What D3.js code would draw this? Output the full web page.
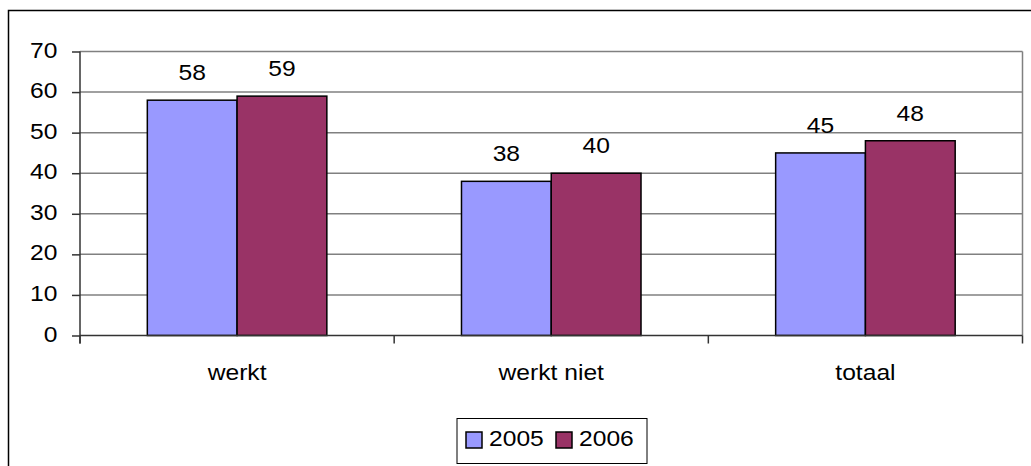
<!DOCTYPE html>
<html><head><meta charset="utf-8">
<script src="https://cdn.jsdelivr.net/npm/d3@7"></script>
<style>body{margin:0;background:#fff}svg{display:block}text{font-family:Arial,"Liberation Sans",sans-serif;fill:#000}</style>
</head><body>
<svg id="c" width="1031" height="466"></svg>
<script>
const categories = ["werkt", "werkt niet", "totaal"];
const seriesNames = ["2005", "2006"];
const values2005 = [58, 38, 45];
const values2006 = [59, 40, 48];
const yTicks = [0, 10, 20, 30, 40, 50, 60, 70];
const colors = ["#9999FF", "#993366"];

const svg = d3.select("#c");
const fs = 22;
const kx = 1.12;
const pLeft = 80, pRight = 1022.5, pTop = 51.5, pBottom = 335.5;

function stretch(sel) {
  sel.each(function() {
    const t = d3.select(this);
    const x = +t.attr("x") || 0, yy = +t.attr("y") || 0;
    t.attr("x", 0).attr("y", 0).attr("transform", `translate(${x},${yy}) scale(${kx},1)`);
  });
}

// outer border
svg.append("rect").attr("x", 8.5).attr("y", 10.5).attr("width", 1100).attr("height", 1000)
  .attr("fill", "none").attr("stroke", "#000").attr("stroke-width", 1.5);

const x0 = d3.scaleBand().domain(categories).range([pLeft, pRight]).paddingInner(0).paddingOuter(0);
const y = d3.scaleLinear().domain([0, 70]).range([pBottom, pTop]);
const bw = x0.bandwidth() / 3.5;
const x1 = d3.scaleBand().domain(seriesNames).range([x0.bandwidth()/2 - bw, x0.bandwidth()/2 + bw]);

// gridlines
svg.append("g").selectAll("line").data(yTicks.filter(d => d > 0)).join("line")
  .attr("x1", pLeft).attr("x2", pRight).attr("y1", d => y(d)).attr("y2", d => y(d))
  .attr("stroke", "#808080").attr("stroke-width", 1.5);
// plot right border
svg.append("line").attr("x1", pRight).attr("x2", pRight).attr("y1", pTop).attr("y2", pBottom)
  .attr("stroke", "#808080").attr("stroke-width", 1.5);

// y axis
const yAxis = d3.axisLeft(y).tickValues(yTicks).tickSize(8).tickPadding(14.5);
const gy = svg.append("g").attr("transform", `translate(${pLeft},0)`).call(yAxis);
gy.select(".domain").attr("stroke", "#333").attr("stroke-width", 1.5).attr("d", `M0,${pTop}V${pBottom + 8}`);
gy.selectAll(".tick line").attr("stroke", "#333").attr("stroke-width", 1.5);
gy.selectAll("text").style("font-size", fs + "px").attr("fill", "#000").attr("dy", "0.25em").call(stretch);

// bars
const data = categories.map((c, i) => ({c, vals: [values2005[i], values2006[i]]}));
const groups = svg.append("g").selectAll("g").data(data).join("g")
  .attr("transform", d => `translate(${x0(d.c)},0)`);
groups.selectAll("rect").data(d => d.vals.map((v, j) => ({v, s: seriesNames[j], j}))).join("rect")
  .attr("x", d => x1(d.s)).attr("width", x1.bandwidth())
  .attr("y", d => y(d.v)).attr("height", d => y(0) - y(d.v))
  .attr("fill", d => colors[d.j]).attr("stroke", "#000").attr("stroke-width", 1.5);
groups.selectAll("text.lbl").data(d => d.vals.map((v, j) => ({v, s: seriesNames[j]}))).join("text")
  .attr("class", "lbl").attr("x", d => x1(d.s) + x1.bandwidth()/2).attr("y", d => y(d.v) - 20)
  .attr("text-anchor", "middle").style("font-size", fs + "px").text(d => d.v).call(stretch);

// x axis
const xAxis = d3.axisBottom(x0).tickSize(0).tickPadding(29);
const gx = svg.append("g").attr("transform", `translate(0,${pBottom})`).call(xAxis);
gx.select(".domain").attr("stroke", "#333").attr("stroke-width", 1.5).attr("d", `M${pLeft},0H${pRight}`);
gx.selectAll("text").style("font-size", fs + "px").attr("fill", "#000").call(stretch);
// category boundary ticks
svg.append("g").selectAll("line").data([pLeft, ...categories.map(c => x0(c) + x0.bandwidth())]).join("line")
  .attr("x1", d => d).attr("x2", d => d).attr("y1", pBottom).attr("y2", pBottom + 8)
  .attr("stroke", "#333").attr("stroke-width", 1.5);

// legend
const lg = svg.append("g");
lg.append("rect").attr("x", 457).attr("y", 418.5).attr("width", 190).attr("height", 45)
  .attr("fill", "#fff").attr("stroke", "#000").attr("stroke-width", 1);
const lx = [466, 556];
seriesNames.forEach((s, i) => {
  lg.append("rect").attr("x", lx[i]).attr("y", 432).attr("width", 16).attr("height", 16)
    .attr("fill", colors[i]).attr("stroke", "#000").attr("stroke-width", 1.5);
  lg.append("text").attr("x", lx[i] + 23).attr("y", 446).style("font-size", fs + "px").text(s).call(stretch);
});
</script>
</body></html>
